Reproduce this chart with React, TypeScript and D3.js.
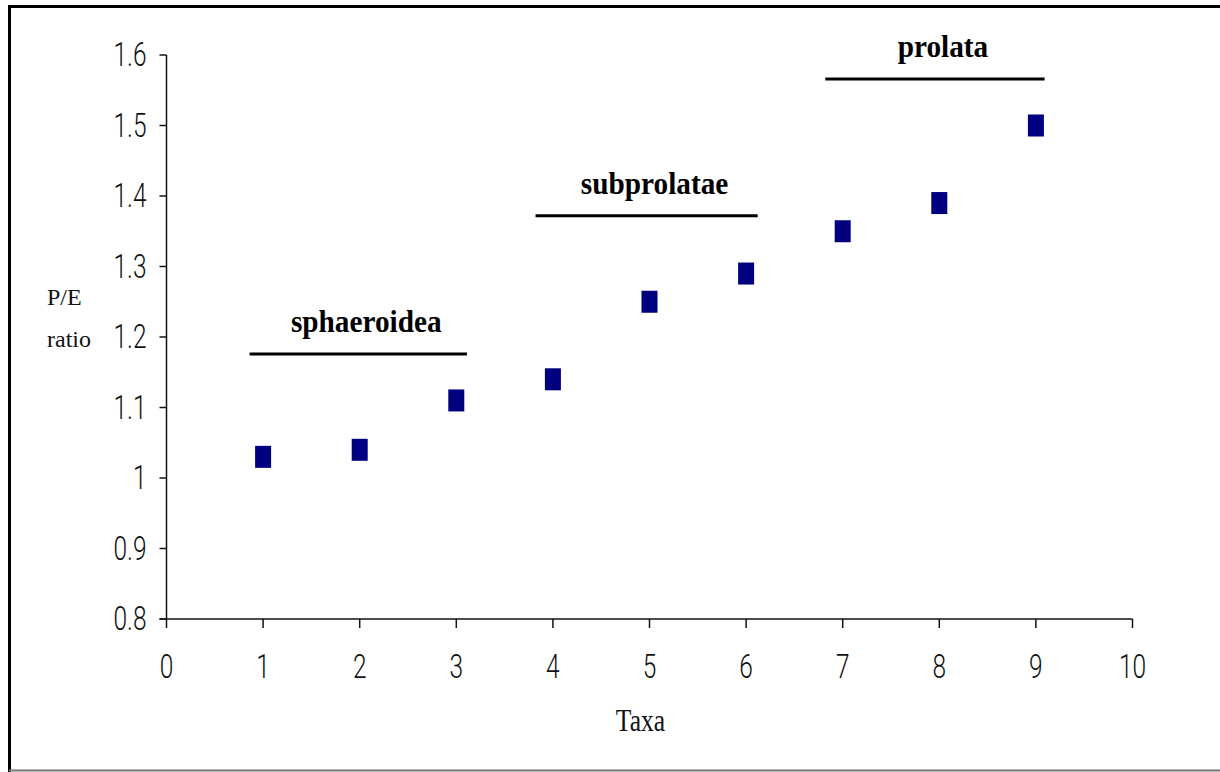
import React from "react";
import * as d3 from "d3";

const taxa = [1, 2, 3, 4, 5, 6, 7, 8, 9];
const ratios = [1.03, 1.04, 1.11, 1.14, 1.25, 1.29, 1.35, 1.39, 1.5];
const xTicks = [0, 1, 2, 3, 4, 5, 6, 7, 8, 9, 10];
const yTicks = [0.8, 0.9, 1.0, 1.1, 1.2, 1.3, 1.4, 1.5, 1.6];
const yTickLabels = ["0.8", "0.9", "1", "1.1", "1.2", "1.3", "1.4", "1.5", "1.6"];
const groupNames = ["sphaeroidea", "subprolatae", "prolata"];
const groupStart = [0.86, 3.82, 6.82];
const groupEnd = [3.11, 6.12, 9.09];
const groupLevel = [1.176, 1.372, 1.566];

export default function App() {
  const x = d3.scaleLinear().domain([0, 10]).range([166.5, 1132.5]);
  const y = d3.scaleLinear().domain([0.8, 1.6]).range([619, 55]);
  const tickFont = "Roboto, 'Liberation Sans', Arial, sans-serif";
  const serif = "'Liberation Serif', 'Times New Roman', serif";
  const sx = 0.72;
  return (
    <svg
      width={1220}
      height={772}
      style={{ position: "absolute", left: 0, top: 0, background: "#fff" }}
    >
      <rect x={0} y={0} width={1220} height={772} fill="#fff" />
      {/* frame */}
      <line x1={9.5} x2={1220} y1={6.5} y2={6.5} stroke="#000" strokeWidth={3} />
      <line x1={9.5} x2={9.5} y1={5} y2={772} stroke="#000" strokeWidth={3} />
      <line x1={9} x2={1220} y1={770.5} y2={770.5} stroke="#777" strokeWidth={2} />

      {/* y axis */}
      <line x1={x(0)} x2={x(0)} y1={y(1.6)} y2={y(0.8)} stroke="#111" strokeWidth={1.5} />
      {yTicks.map((t, i) => (
        <g key={"yt" + i}>
          <line x1={x(0) - 7} x2={x(0)} y1={y(t)} y2={y(t)} stroke="#111" strokeWidth={1.5} />
          <text
            transform={`translate(${x(0) - 20},${y(t)}) scale(${sx},1)`}
            textAnchor="end"
            dominantBaseline="central"
            fontFamily={tickFont}
            fontWeight={300}
            fontSize={34}
            fill="#111"
          >
            {yTickLabels[i]}
          </text>
        </g>
      ))}
      {/* x axis */}
      <line x1={x(0) - 7} x2={x(10)} y1={y(0.8)} y2={y(0.8)} stroke="#111" strokeWidth={1.5} />
      {xTicks.map((t, i) => (
        <g key={"xt" + i}>
          <line x1={x(t)} x2={x(t)} y1={y(0.8)} y2={y(0.8) + 9} stroke="#111" strokeWidth={1.5} />
          <text
            transform={`translate(${x(t)},${678}) scale(${sx},1)`}
            textAnchor="middle"
            fontFamily={tickFont}
            fontWeight={300}
            fontSize={34}
            fill="#111"
          >
            {t}
          </text>
        </g>
      ))}

      {/* axis titles */}
      <text x={47} y={305} fontFamily={serif} fontSize={24} fill="#111">
        P/E
      </text>
      <text x={47} y={347} fontFamily={serif} fontSize={24} fill="#111">
        ratio
      </text>
      <text
        transform={`translate(${640.5},${730.5}) scale(0.8,1)`}
        textAnchor="middle"
        fontFamily={serif}
        fontSize={32}
        fill="#111"
      >
        Taxa
      </text>

      {/* group bars and labels */}
      {groupNames.map((g, i) => {
        const cx = (x(groupStart[i]) + x(groupEnd[i])) / 2 + 8;
        return (
          <g key={"g" + i}>
            <line
              x1={x(groupStart[i])}
              x2={x(groupEnd[i])}
              y1={y(groupLevel[i])}
              y2={y(groupLevel[i])}
              stroke="#000"
              strokeWidth={3}
            />
            <text
              transform={`translate(${cx},${y(groupLevel[i]) - 22}) scale(1.01,1.1)`}
              textAnchor="middle"
              fontFamily={serif}
              fontWeight="bold"
              fontSize={29}
              fill="#000"
            >
              {g}
            </text>
          </g>
        );
      })}

      {/* data points */}
      {taxa.map((t, i) => (
        <rect
          key={"p" + i}
          x={x(t) - 8}
          y={y(ratios[i]) - 11}
          width={16}
          height={22}
          fill="#000080"
        />
      ))}
    </svg>
  );
}
